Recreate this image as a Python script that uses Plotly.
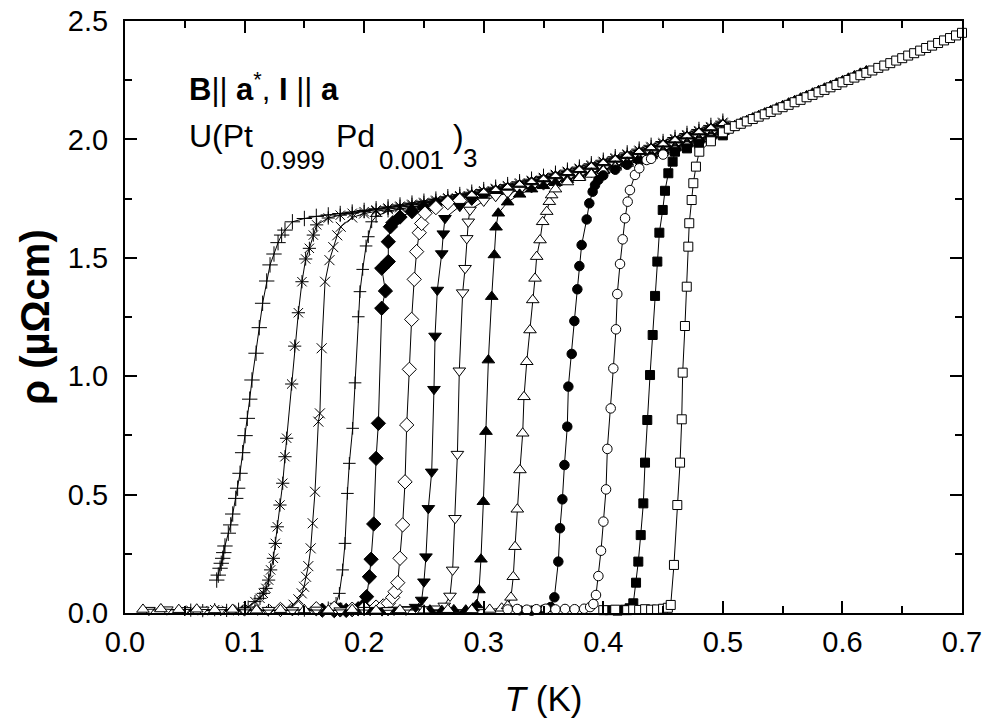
import plotly.graph_objects as go

# ---------------- data ----------------
# shared temperature grid for the normal-state part (K)
normal_T = [0.14, 0.15, 0.16, 0.17, 0.18, 0.19, 0.20, 0.21, 0.22, 0.23, 0.24, 0.25,
            0.26, 0.27, 0.28, 0.29, 0.30, 0.31, 0.32, 0.33, 0.34, 0.35, 0.36, 0.37,
            0.38, 0.39, 0.40, 0.41, 0.42, 0.43, 0.44, 0.45, 0.46, 0.47, 0.48, 0.49, 0.50]

# series 1: '+' (lowest Tc)
s1_T = [0.0767, 0.0780, 0.0795, 0.0805, 0.0817, 0.0826, 0.0836, 0.0864, 0.0884, 0.0901, 0.0926,
        0.0942, 0.0962, 0.0984, 0.1004, 0.1023, 0.1043, 0.1062, 0.1096, 0.1123, 0.1151, 0.1185,
        0.1213, 0.1246, 0.1280, 0.1310, 0.1338]
s1_rho = [0.139, 0.160, 0.189, 0.210, 0.231, 0.255, 0.283, 0.337, 0.372, 0.418, 0.484,
          0.527, 0.590, 0.677, 0.749, 0.822, 0.903, 0.984, 1.097, 1.205, 1.308, 1.402,
          1.470, 1.516, 1.564, 1.596, 1.617]
s1_norm = [1.652, 1.666, 1.675, 1.681, 1.687, 1.693, 1.700, 1.707, 1.715, 1.723,
           1.731, 1.739, 1.748, 1.758, 1.767, 1.777, 1.788, 1.798, 1.809, 1.821,
           1.832, 1.844, 1.857, 1.870, 1.883, 1.897, 1.912, 1.927, 1.943, 1.959,
           1.975, 1.991, 2.008, 2.025, 2.042, 2.059, 2.077]

# series 2: asterisk
s2_T = [0.055, 0.065, 0.075, 0.085, 0.095, 0.103, 0.1087, 0.1129, 0.1157, 0.1179, 0.1201, 0.1218,
        0.1241, 0.1257, 0.1274, 0.1296, 0.1319, 0.1338, 0.1352, 0.1394, 0.1419, 0.1450,
        0.1480, 0.1511, 0.1542, 0.1575, 0.1603]
s2_rho = [0.012, 0.010, 0.014, 0.011, 0.016, 0.025, 0.048, 0.062, 0.083, 0.104, 0.139, 0.182,
          0.231, 0.294, 0.364, 0.456, 0.548, 0.660, 0.738, 0.967, 1.127, 1.268,
          1.399, 1.495, 1.540, 1.596, 1.639]
s2_norm = [1.668, 1.680, 1.688, 1.695, 1.702, 1.710, 1.718, 1.726, 1.734, 1.743,
           1.753, 1.762, 1.772, 1.783, 1.793, 1.804, 1.816, 1.827, 1.839, 1.852,
           1.865, 1.878, 1.892, 1.907, 1.922, 1.938, 1.954, 1.970, 1.986, 2.003,
           2.020, 2.037, 2.054, 2.072]

# series 3: 'x'
s3_T = [0.095, 0.105, 0.115, 0.125, 0.135, 0.141, 0.1450, 0.1478, 0.1497, 0.1514, 0.1533, 0.1553,
        0.1570, 0.1589, 0.1617, 0.1630, 0.1645, 0.1673, 0.1710, 0.1742, 0.1775, 0.1804]
s3_rho = [0.011, 0.013, 0.010, 0.015, 0.020, 0.035, 0.058, 0.083, 0.111, 0.153, 0.198, 0.273,
          0.379, 0.512, 0.808, 0.843, 1.118, 1.399, 1.490, 1.545, 1.595, 1.631]
s3_norm = [1.670, 1.687, 1.697, 1.705, 1.713, 1.721, 1.729, 1.738, 1.748, 1.757,
           1.767, 1.778, 1.788, 1.799, 1.811, 1.822, 1.834, 1.847, 1.860, 1.873,
           1.887, 1.902, 1.917, 1.933, 1.949, 1.965, 1.981, 1.998, 2.015, 2.032,
           2.049, 2.067]

# series 4: thin '+'
s4_T = [0.120, 0.130, 0.140, 0.150, 0.160, 0.170, 0.1765, 0.1793, 0.1820, 0.1840, 0.1860, 0.1876,
        0.1904, 0.1924, 0.1951, 0.1965, 0.1988, 0.2016, 0.2035, 0.2063]
s4_rho = [0.012, 0.010, 0.014, 0.011, 0.015, 0.022, 0.041, 0.083, 0.182, 0.294, 0.505, 0.632,
          0.780, 0.972, 1.251, 1.357, 1.451, 1.550, 1.589, 1.652]
s4_norm = [1.675, 1.697, 1.706, 1.716, 1.724, 1.733, 1.743, 1.752, 1.762, 1.773,
           1.783, 1.794, 1.806, 1.817, 1.829, 1.842, 1.855, 1.868, 1.882, 1.897,
           1.912, 1.928, 1.944, 1.960, 1.976, 1.993, 2.010, 2.027, 2.044, 2.062]

# series 5: filled diamond
s5_T = [0.165, 0.175, 0.180, 0.185, 0.190, 0.195, 0.199, 0.2021, 0.2044, 0.2058, 0.2080, 0.2100,
        0.2119, 0.2147, 0.2178, 0.2147, 0.2202, 0.2202, 0.2220, 0.2240]
s5_rho = [0.012, 0.010, 0.013, 0.011, 0.014, 0.018, 0.030, 0.069, 0.153, 0.227, 0.376, 0.653,
          0.801, 1.287, 1.360, 1.456, 1.484, 1.568, 1.631, 1.648]
s5_norm = [1.672, 1.695, 1.712, 1.728, 1.738, 1.747, 1.757, 1.768, 1.778, 1.789,
           1.801, 1.812, 1.824, 1.837, 1.850, 1.863, 1.877, 1.892, 1.907, 1.923,
           1.939, 1.955, 1.971, 1.988, 2.005, 2.022, 2.039, 2.057]

# series 6: open diamond
s6_T = [0.130, 0.145, 0.160, 0.175, 0.190, 0.200, 0.210, 0.216, 0.2202, 0.2239, 0.2258, 0.2281,
        0.2300, 0.2322, 0.2342, 0.2356, 0.2378, 0.2397, 0.2419, 0.2439, 0.2461, 0.2481, 0.2509]
s6_rho = [0.015, 0.020, 0.018, 0.020, 0.016, 0.020, 0.025, 0.030, 0.041, 0.066, 0.090, 0.128,
          0.231, 0.372, 0.554, 0.794, 1.029, 1.240, 1.409, 1.526, 1.606, 1.645, 1.688]
s6_norm = [1.712, 1.733, 1.742, 1.752, 1.763, 1.773, 1.784, 1.796, 1.807, 1.819,
           1.832, 1.845, 1.858, 1.872, 1.887, 1.902, 1.918, 1.934, 1.950, 1.966,
           1.983, 2.000, 2.017, 2.034, 2.052]

# series 7: filled down-triangle
s7_T = [0.205, 0.215, 0.225, 0.235, 0.243, 0.2481, 0.2500, 0.2517, 0.2537, 0.2565, 0.2584,
        0.2593, 0.2612, 0.2649, 0.2662, 0.2676]
s7_rho = [0.012, 0.010, 0.013, 0.015, 0.025, 0.055, 0.132, 0.238, 0.442, 0.596, 0.945,
          1.170, 1.364, 1.518, 1.602, 1.667]
s7_norm = [1.718, 1.745, 1.758, 1.768, 1.779, 1.791, 1.802, 1.814, 1.827, 1.840,
           1.853, 1.867, 1.882, 1.897, 1.913, 1.929, 1.945, 1.961, 1.978, 1.995,
           2.012, 2.029, 2.047]

# series 8: open down-triangle
s8_T = [0.020, 0.035, 0.050, 0.065, 0.080, 0.100, 0.120, 0.140, 0.160, 0.180, 0.200, 0.220,
        0.235, 0.250, 0.260, 0.267, 0.2718, 0.2740, 0.2760, 0.2780, 0.2796, 0.2824, 0.2844,
        0.2858, 0.2871, 0.2885]
s8_rho = [0.012, 0.014, 0.011, 0.013, 0.012, 0.010, 0.012, 0.011, 0.013, 0.010, 0.012, 0.011,
          0.013, 0.015, 0.018, 0.030, 0.072, 0.182, 0.400, 0.671, 1.023, 1.353, 1.456,
          1.582, 1.652, 1.702]
s8_norm = [1.740, 1.760, 1.774, 1.786, 1.797, 1.809, 1.822, 1.835, 1.848, 1.862,
           1.877, 1.892, 1.908, 1.924, 1.940, 1.956, 1.973, 1.990, 2.007, 2.024,
           2.042]

# series 9: filled up-triangle
s9_T = [0.255, 0.265, 0.275, 0.285, 0.291, 0.2941, 0.2961, 0.2977, 0.2997, 0.3019, 0.3039,
        0.3067, 0.3089, 0.3103, 0.3122]
s9_rho = [0.012, 0.010, 0.013, 0.012, 0.020, 0.034, 0.097, 0.227, 0.470, 0.766, 1.068,
          1.336, 1.512, 1.629, 1.688]
s9_norm = [1.735, 1.768, 1.790, 1.804, 1.817, 1.830, 1.843, 1.857, 1.872, 1.887,
           1.903, 1.919, 1.935, 1.951, 1.968, 1.985, 2.002, 2.019, 2.037]
s9_hi_T = [0.505, 0.510, 0.515, 0.520, 0.525, 0.530, 0.535, 0.540, 0.545, 0.550, 0.555, 0.560,
           0.565, 0.570, 0.575, 0.580, 0.585, 0.590, 0.595, 0.600, 0.605, 0.610, 0.615, 0.620]
s9_hi_rho = [2.048, 2.058, 2.069, 2.079, 2.090, 2.100, 2.111, 2.121, 2.132, 2.142, 2.153, 2.163,
             2.174, 2.184, 2.195, 2.205, 2.216, 2.226, 2.237, 2.247, 2.258, 2.268, 2.279, 2.289]

# series 10: open up-triangle
s10_T = [0.015, 0.030, 0.045, 0.060, 0.075, 0.090, 0.110, 0.130, 0.150, 0.170, 0.190, 0.210,
         0.230, 0.250, 0.270, 0.290, 0.305, 0.315, 0.320, 0.3228, 0.3247, 0.3262, 0.3281,
         0.3303, 0.3326, 0.3337, 0.3360, 0.3387, 0.3410, 0.3429, 0.3443, 0.3471, 0.3493,
         0.3527, 0.3549, 0.3568]
s10_rho = [0.015, 0.017, 0.014, 0.016, 0.013, 0.015, 0.012, 0.014, 0.013, 0.012, 0.014, 0.011,
           0.013, 0.012, 0.014, 0.013, 0.015, 0.020, 0.030, 0.066, 0.153, 0.280, 0.438,
           0.604, 0.759, 0.913, 1.061, 1.195, 1.322, 1.413, 1.505, 1.575, 1.652,
           1.695, 1.737, 1.765]
s10_norm = [1.790, 1.820, 1.838, 1.852, 1.867, 1.882, 1.898, 1.914, 1.930, 1.946,
            1.963, 1.980, 1.997, 2.014, 2.032]

# series 11: filled circle
s11_T = [0.330, 0.340, 0.350, 0.356, 0.3591, 0.3624, 0.3638, 0.3658, 0.3675, 0.3699, 0.3708,
         0.3736, 0.3758, 0.3783, 0.3800, 0.3819, 0.3861, 0.3883, 0.3911, 0.3931, 0.3959]
s11_rho = [0.012, 0.010, 0.014, 0.025, 0.066, 0.217, 0.358, 0.480, 0.625, 0.787, 0.956,
           1.094, 1.233, 1.367, 1.465, 1.554, 1.662, 1.730, 1.779, 1.807, 1.829]
s11_norm = [1.848, 1.872, 1.893, 1.909, 1.925, 1.941, 1.958, 1.975, 1.992, 2.009, 2.027]

# series 12: open circle
s12_T = [0.320, 0.328, 0.336, 0.344, 0.352, 0.360, 0.368, 0.376, 0.384, 0.389, 0.3917, 0.3939,
         0.3959, 0.3981, 0.4001, 0.4023, 0.4034, 0.4062, 0.4084, 0.4106, 0.4117, 0.4140,
         0.4162, 0.4182, 0.4204, 0.4223, 0.4265, 0.4301, 0.4363]
s12_rho = [0.015, 0.017, 0.014, 0.016, 0.018, 0.015, 0.017, 0.016, 0.018, 0.025, 0.038, 0.076,
           0.156, 0.263, 0.386, 0.522, 0.693, 0.864, 1.033, 1.198, 1.347, 1.474,
           1.578, 1.667, 1.737, 1.786, 1.850, 1.878, 1.913]
s12_norm = [1.918, 1.936, 1.953, 1.970, 1.987, 2.004, 2.022]

# series 13: filled square
s13_T = [0.405, 0.412, 0.418, 0.422, 0.4251, 0.4274, 0.4293, 0.4313, 0.4335, 0.4349, 0.4368,
         0.4391, 0.4413, 0.4433, 0.4452, 0.4469, 0.4497, 0.4516, 0.4544, 0.4580, 0.4600]
s13_rho = [0.012, 0.010, 0.014, 0.020, 0.041, 0.128, 0.217, 0.329, 0.463, 0.635, 0.815,
           1.005, 1.174, 1.339, 1.484, 1.606, 1.702, 1.783, 1.857, 1.906, 1.948]
s13_norm = [1.962, 1.982, 1.999, 2.017]

# series 14: open square (highest Tc)
s14_T = [0.400, 0.410, 0.420, 0.425, 0.430, 0.435, 0.440, 0.445, 0.450, 0.454, 0.4564, 0.4591,
         0.4619, 0.4642, 0.4656, 0.4664, 0.4683, 0.4698, 0.4711, 0.4719, 0.4739, 0.4753,
         0.4775, 0.4803]
s14_rho = [0.012, 0.014, 0.012, 0.015, 0.013, 0.016, 0.014, 0.015, 0.018, 0.022, 0.034, 0.203,
           0.456, 0.635, 0.818, 1.015, 1.212, 1.378, 1.547, 1.646, 1.744, 1.815,
           1.885, 1.948]
s14_norm = [1.992, 2.030]
s14_hi_T = [0.505, 0.510, 0.515, 0.520, 0.525, 0.530, 0.535, 0.540, 0.545, 0.550,
            0.555, 0.560, 0.565, 0.570, 0.575, 0.580, 0.585, 0.590, 0.595, 0.600,
            0.605, 0.610, 0.615, 0.620, 0.625, 0.630, 0.635, 0.640, 0.645, 0.650,
            0.655, 0.660, 0.665, 0.670, 0.675, 0.680, 0.685, 0.690, 0.695, 0.700]
s14_hi_rho = [2.045, 2.056, 2.066, 2.076, 2.086, 2.096, 2.106, 2.116, 2.126, 2.136,
              2.146, 2.157, 2.167, 2.178, 2.188, 2.199, 2.209, 2.220, 2.230, 2.241,
              2.251, 2.261, 2.271, 2.281, 2.291, 2.302, 2.312, 2.322, 2.333, 2.343,
              2.354, 2.364, 2.375, 2.386, 2.396, 2.407, 2.418, 2.428, 2.439, 2.450]

# ---------------- styles ----------------
BLACK = "black"
styles = [
    # (symbol, size, fill)
    ("cross-thin", 11, BLACK),
    ("asterisk", 11, BLACK),
    ("x-thin", 10, BLACK),
    ("cross-thin", 9, BLACK),
    ("diamond", 11, BLACK),
    ("diamond", 11, "white"),
    ("triangle-down", 11, BLACK),
    ("triangle-down", 11, "white"),
    ("triangle-up", 11, BLACK),
    ("triangle-up", 11, "white"),
    ("circle", 9.5, BLACK),
    ("circle", 9.5, "white"),
    ("square", 9, BLACK),
    ("square", 9, "white"),
]

series = [
    (s1_T, s1_rho, s1_norm, [], []),
    (s2_T, s2_rho, s2_norm, [], []),
    (s3_T, s3_rho, s3_norm, [], []),
    (s4_T, s4_rho, s4_norm, [], []),
    (s5_T, s5_rho, s5_norm, [], []),
    (s6_T, s6_rho, s6_norm, [], []),
    (s7_T, s7_rho, s7_norm, [], []),
    (s8_T, s8_rho, s8_norm, [], []),
    (s9_T, s9_rho, s9_norm, s9_hi_T, s9_hi_rho),
    (s10_T, s10_rho, s10_norm, [], []),
    (s11_T, s11_rho, s11_norm, [], []),
    (s12_T, s12_rho, s12_norm, [], []),
    (s13_T, s13_rho, s13_norm, [], []),
    (s14_T, s14_rho, s14_norm, s14_hi_T, s14_hi_rho),
]

FONT = "Liberation Sans, Arial, Helvetica, sans-serif"

fig = go.Figure()
for (tT, tr, nr, hT, hr), (sym, size, fill) in zip(series, styles):
    x = list(tT) + normal_T[len(normal_T) - len(nr):] + list(hT)
    y = list(tr) + list(nr) + list(hr)
    fig.add_trace(go.Scatter(
        x=x, y=y, mode="lines+markers",
        line=dict(color=BLACK, width=1),
        marker=dict(symbol=sym, size=size, color=fill,
                    line=dict(color=BLACK, width=1)),
        cliponaxis=False, showlegend=False, hoverinfo="skip",
    ))

axis_common = dict(
    showline=True, linewidth=2, linecolor=BLACK, mirror="allticks",
    ticks="inside", ticklen=12, tickwidth=2, tickcolor=BLACK,
    showgrid=False, zeroline=False, automargin=False,
    tickfont=dict(family=FONT, size=29, color=BLACK),
)

fig.update_layout(
    width=986, height=719,
    margin=dict(l=125, r=24, t=21, b=106),
    paper_bgcolor="white", plot_bgcolor="white",
    xaxis=dict(range=[0, 0.7], dtick=0.1, tick0=0, tickformat=".1f",
               minor=dict(ticks="inside", ticklen=7, tickwidth=2, tickcolor=BLACK, dtick=0.05),
               ticklabelstandoff=2,
               title=dict(text="<i>T</i> (K)", font=dict(family=FONT, size=35, color=BLACK),
                          standoff=30),
               **axis_common),
    yaxis=dict(range=[0, 2.5], dtick=0.5, tick0=0, tickformat=".1f",
               minor=dict(ticks="inside", ticklen=7, tickwidth=2, tickcolor=BLACK, dtick=0.25),
               ticklabelstandoff=9,
               title=dict(text="<b>ρ (µΩcm)</b>", font=dict(family=FONT, size=40, color=BLACK),
                          standoff=6),
               **axis_common),
)

# in-plot labels
ann_font_line1 = dict(family=FONT, size=31, color=BLACK)
ann_font_main = dict(family=FONT, size=32, color=BLACK)
ann_font_sub = dict(family=FONT, size=26, color=BLACK)
labels = [
    ("<b>B</b>|| <b>a</b><sup>*</sup>, <b>I</b> || <b>a</b>", 0.0741, 0.889, ann_font_line1),
    ("U(Pt", 0.0741, 0.806, ann_font_main),
    ("0.999", 0.1589, 0.765, ann_font_sub),
    ("Pd", 0.2497, 0.806, ann_font_main),
    ("0.001", 0.3011, 0.765, ann_font_sub),
    (")", 0.3890, 0.806, ann_font_main),
    ("3", 0.4020, 0.769, ann_font_sub),
]
for txt, xp, yp, f in labels:
    fig.add_annotation(text=txt, x=xp, y=yp, xref="paper", yref="paper",
                       xanchor="left", yanchor="middle", showarrow=False, font=f)

# the page body has a default 8px margin; remove it so the figure fills the window exactly
fig.write_html("out.html", config={"displayModeBar": False, "staticPlot": True},
               post_script="document.body.style.margin='0';")
